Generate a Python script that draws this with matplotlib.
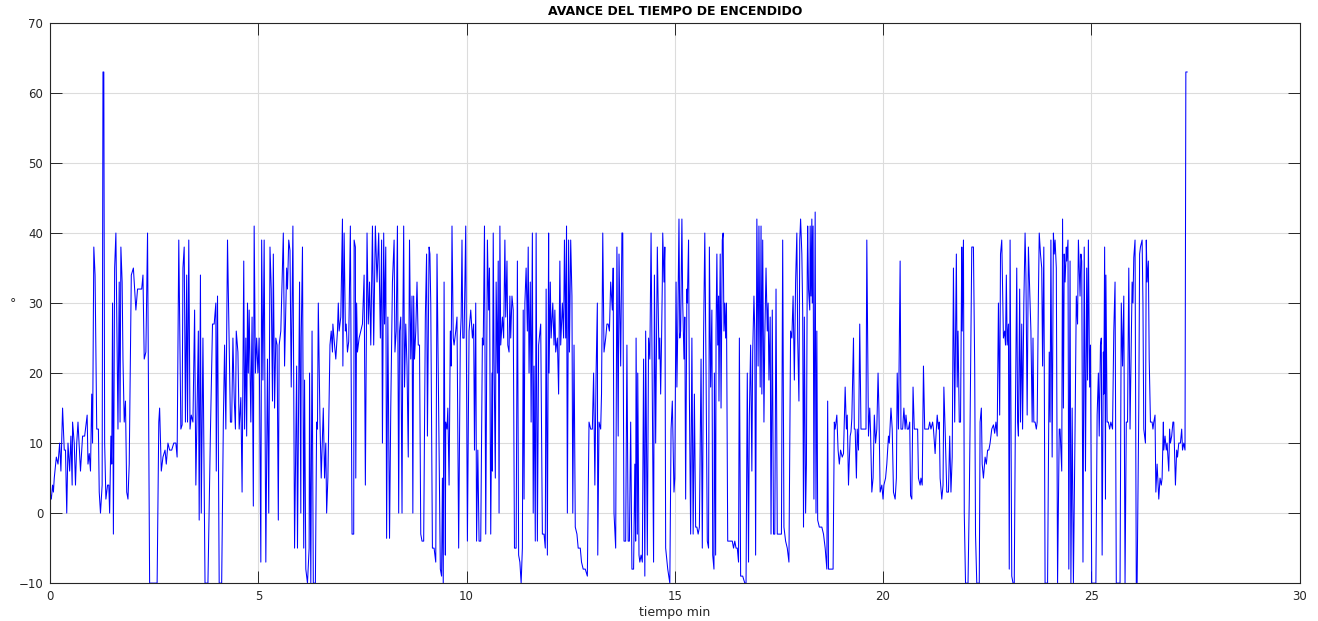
import matplotlib
matplotlib.use("Agg")
import matplotlib.pyplot as plt

# (tiempo [min], avance [grados]), por tramos
seg_a = [(0.00,3),(0.03,2),(0.06,4),(0.08,3),(0.10,5),(0.15,8),(0.19,7),(0.23,10),(0.26,6),(0.30,15),(0.34,9),(0.37,9),(0.40,0),(0.43,10),(0.47,6),(0.50,11),(0.53,4),(0.54,13),(0.58,10),(0.61,4),(0.64,10),(0.67,13),(0.73,6),(0.78,11),(0.83,11),(0.89,14),(0.91,7),(0.94,8.5),(0.97,6),(1.00,17),(1.02,10),(1.05,38),(1.08,34),(1.12,12),(1.16,12),(1.18,3),(1.21,0),(1.25,4),(1.27,63),(1.29,63),(1.31,10),(1.34,2),(1.38,4),(1.41,4),(1.43,0),(1.46,11),(1.48,7),(1.50,30),(1.52,-3),(1.55,35),(1.58,40),(1.63,12),(1.66,33),(1.68,13),(1.70,38),(1.73,33),(1.75,22),(1.78,13),(1.81,16),(1.84,3),(1.87,2),(1.90,7),(1.95,34),(2.00,35),(2.03,32),(2.06,29),(2.10,32),(2.15,32),(2.20,32)]
seg_b = [(2.23,34),(2.26,22),(2.30,23),(2.34,40),(2.39,-10),(2.47,-10),(2.57,-10),(2.61,13),(2.63,15),(2.67,6),(2.71,8),(2.76,9),(2.79,7),(2.83,10),(2.87,9),(2.92,9),(2.97,10),(3.02,10),(3.05,8),(3.09,39),(3.14,12),(3.17,12.6),(3.19,35),(3.22,38),(3.25,13),(3.28,34),(3.30,13),(3.33,39),(3.36,12),(3.39,14),(3.43,13),(3.47,29),(3.50,4),(3.54,19),(3.56,26),(3.58,-1),(3.61,34),(3.63,0),(3.67,25),(3.72,-10),(3.79,-10),(3.85,11.6),(3.90,27),(3.94,27),(3.98,30),(3.99,6),(4.02,31),(4.06,-10),(4.12,-10),(4.16,13),(4.19,24),(4.22,12),(4.26,39),(4.33,13),(4.36,13),(4.39,25),(4.42,16.5),(4.45,12),(4.47,26)]
seg_c = [(4.51,23),(4.54,12),(4.58,16.5),(4.61,3),(4.65,36),(4.67,12),(4.70,25),(4.72,11),(4.74,30),(4.76,20),(4.78,29),(4.82,13),(4.85,28),(4.88,1),(4.90,41),(4.93,20),(4.96,25),(4.99,20),(5.02,25),(5.06,-7),(5.08,39),(5.11,19),(5.14,39),(5.18,-7),(5.22,22),(5.25,0),(5.28,38),(5.31,32),(5.34,16),(5.36,37),(5.39,15),(5.42,25),(5.45,24),(5.48,-1),(5.50,24),(5.54,26),(5.60,40),(5.63,21),(5.68,35),(5.70,32),(5.73,39),(5.76,37.5),(5.79,18),(5.83,41),(5.87,-5),(5.92,21),(5.94,-5),(5.99,33),(6.02,0),(6.03,25),(6.06,38),(6.09,-5),(6.11,19),(6.14,-8),(6.18,-10),(6.22,-5),(6.23,20),(6.26,-10),(6.29,26),(6.32,-10),(6.37,-10),(6.40,13),(6.42,12),(6.44,30),(6.48,13),(6.51,5),(6.56,15),(6.59,5),(6.62,10),(6.64,0),(6.67,5),(6.72,24),(6.75,26),(6.78,23)]
seg_d = [(6.79,27),(6.83,24),(6.86,22),(6.90,26),(6.92,30),(6.94,26),(6.98,28),(7.02,42),(7.03,21),(7.06,40),(7.09,26),(7.11,27),(7.14,23),(7.17,24.5),(7.21,41),(7.25,-3),(7.29,-3),(7.30,39),(7.33,38),(7.34,5),(7.36,30),(7.38,23),(7.42,25),(7.46,26),(7.50,27),(7.54,34),(7.57,4),(7.61,40),(7.64,27),(7.67,33),(7.70,24),(7.74,41),(7.77,24),(7.81,41),(7.85,33),(7.89,40),(7.93,25),(7.96,39),(7.98,10),(8.01,40),(8.03,27),(8.06,38),(8.08,-3.6),(8.11,28),(8.15,-3.6),(8.18,15),(8.22,33),(8.26,39),(8.28,23),(8.31,26),(8.34,41),(8.37,0),(8.39,26),(8.42,28),(8.45,0),(8.47,27),(8.49,41),(8.51,18),(8.54,27),(8.57,21),(8.60,8),(8.63,39),(8.66,22),(8.69,31),(8.71,0),(8.73,31),(8.75,22),(8.78,26),(8.81,33),(8.84,24),(8.87,24),(8.90,-3),(8.93,-4),(8.97,-4),(9.01,28),(9.04,37),(9.06,11)]
seg_e = [(9.10,38),(9.12,37),(9.14,30),(9.18,-5),(9.22,-5),(9.26,-7),(9.29,37),(9.33,14.5),(9.37,-8),(9.40,-9),(9.42,5),(9.44,-10),(9.46,33),(9.49,-6),(9.50,13),(9.53,12),(9.55,15),(9.58,4),(9.61,26),(9.63,21),(9.65,41),(9.68,25),(9.70,24),(9.74,26),(9.77,28),(9.81,-5),(9.85,25),(9.87,28),(9.89,39),(9.91,25),(9.94,25),(9.98,41),(10.02,-4),(10.06,26),(10.10,29),(10.14,25),(10.17,27),(10.19,9),(10.22,30),(10.24,-4),(10.27,9),(10.30,-4),(10.34,-4),(10.38,25),(10.40,24),(10.43,41),(10.46,-3),(10.50,39),(10.53,29),(10.55,35),(10.58,-3),(10.61,20),(10.62,6),(10.64,40),(10.66,22),(10.69,5),(10.71,33),(10.74,20),(10.76,36),(10.78,0),(10.80,41),(10.82,24),(10.86,28),(10.89,25),(10.92,39),(10.94,28),(10.97,36),(10.99,24),(11.02,23),(11.04,31),(11.06,25),(11.09,31),(11.12,29),(11.15,-5),(11.19,-5),(11.22,36),(11.25,-6),(11.28,-7),(11.31,-10),(11.34,-5),(11.36,29)]
seg_f = [(11.38,2),(11.40,30),(11.43,35),(11.46,26),(11.48,38),(11.50,20),(11.53,33),(11.55,13),(11.58,40),(11.60,0),(11.62,21),(11.65,-4),(11.67,40),(11.70,-4),(11.73,24),(11.78,27),(11.82,-3),(11.86,-3),(11.89,-5),(11.91,32),(11.94,-6),(11.97,40),(11.98,20),(12.01,33),(12.03,25),(12.07,30),(12.10,24),(12.12,29),(12.14,23),(12.18,25),(12.21,17),(12.24,36),(12.26,24),(12.30,30),(12.33,25),(12.35,39),(12.38,25),(12.40,41),(12.42,0),(12.45,39),(12.47,23),(12.50,39),(12.53,31),(12.55,0),(12.58,24),(12.61,-2),(12.65,-3),(12.68,-5),(12.73,-5),(12.76,-7),(12.80,-8),(12.85,-8),(12.90,-9),(12.94,13),(12.98,12),(13.02,12),(13.05,20),(13.08,4),(13.11,20),(13.14,30),(13.15,-6),(13.18,13),(13.22,12),(13.24,17),(13.27,40),(13.30,23),(13.34,25),(13.37,27),(13.40,27),(13.43,26),(13.46,33),(13.50,29),(13.52,35),(13.54,0),(13.58,-5),(13.61,38),(13.64,11)]
seg_g = [(13.66,37),(13.70,21),(13.73,40),(13.75,40),(13.78,-4),(13.82,-4),(13.85,24),(13.88,-4),(13.91,-4),(13.94,13),(13.97,-8),(14.01,-8),(14.04,7),(14.06,-4),(14.07,25),(14.10,-3),(14.11,20),(14.14,-6),(14.16,-7),(14.19,-6),(14.22,-7),(14.25,22),(14.28,-9),(14.30,26),(14.34,-6),(14.37,25),(14.40,22),(14.43,40),(14.46,17.5),(14.49,-7),(14.51,34),(14.54,10),(14.58,38),(14.62,22),(14.64,25),(14.66,17),(14.68,24),(14.70,33),(14.71,40),(14.74,33),(14.76,38),(14.78,-5),(14.83,-8),(14.88,-10),(14.91,12),(14.94,16),(14.98,3),(15.00,5),(15.03,33),(15.05,18),(15.07,26),(15.10,42),(15.12,25),(15.14,26),(15.17,42),(15.19,30),(15.22,22),(15.24,28),(15.26,2),(15.29,32),(15.30,30),(15.33,39),(15.35,16.5),(15.38,-3),(15.41,25),(15.44,-3),(15.47,17),(15.50,-2),(15.53,-2),(15.56,-3),(15.59,-2),(15.63,22),(15.66,-5),(15.69,25),(15.72,40),(15.75,20),(15.78,-4),(15.81,-5),(15.83,38),(15.86,18),(15.89,29)]
seg_h = [(15.91,-6),(15.94,-8),(15.95,20),(15.98,-6),(15.99,26),(16.01,37),(16.03,24),(16.05,31),(16.06,16),(16.09,37),(16.11,15),(16.14,39),(16.16,40),(16.18,26),(16.20,30),(16.22,25),(16.24,30),(16.27,-4),(16.33,-4),(16.38,-4),(16.41,-5),(16.44,-4),(16.47,-5),(16.50,-5),(16.53,-7),(16.55,25),(16.58,-9),(16.63,-9),(16.68,-10),(16.71,-10),(16.74,20),(16.77,-7),(16.79,14),(16.82,24),(16.85,6),(16.87,23),(16.90,31),(16.92,26),(16.94,-6),(16.97,42),(17.00,21),(17.02,41),(17.05,18),(17.07,41),(17.09,17),(17.11,39),(17.14,13),(17.16,25),(17.19,35),(17.22,26),(17.24,30),(17.26,19),(17.29,28),(17.31,-3),(17.34,29),(17.37,-3),(17.40,-3),(17.43,32),(17.46,-3),(17.50,-3),(17.54,-3),(17.56,-3),(17.59,39),(17.62,-2),(17.66,-4),(17.70,-5),(17.74,-7),(17.78,26),(17.81,25),(17.84,31),(17.87,19),(17.90,33),(17.93,40),(17.95,25),(17.98,16),(18.00,39),(18.02,42),(18.05,37),(18.07,29),(18.09,-2),(18.11,28),(18.14,0),(18.16,7),(18.18,35)]
seg_i = [(18.19,41),(18.21,32),(18.24,29),(18.25,41),(18.27,31),(18.29,42),(18.30,30),(18.32,41),(18.34,2),(18.37,43),(18.39,0),(18.41,26),(18.43,-1),(18.47,-2),(18.53,-2),(18.57,-3),(18.61,-5),(18.65,-8),(18.67,16),(18.69,-8),(18.75,-8),(18.80,-8),(18.83,13),(18.85,12),(18.89,14),(18.92,9),(18.95,7),(18.98,9),(19.02,8),(19.05,8.5),(19.09,18),(19.12,12),(19.14,14),(19.17,4),(19.21,11),(19.23,11.6),(19.25,13.5),(19.29,25),(19.31,12),(19.33,12),(19.36,5),(19.38,12),(19.41,9),(19.44,27),(19.47,12),(19.52,12),(19.57,12),(19.59,12),(19.61,39),(19.65,11),(19.68,15),(19.70,11.6),(19.73,3),(19.76,5),(19.79,14),(19.82,10),(19.85,12),(19.88,20),(19.90,15),(19.93,3),(19.97,4),(20.00,2),(20.02,4),(20.06,5),(20.09,7),(20.13,11),(20.15,10),(20.19,15),(20.22,12),(20.25,3),(20.29,2),(20.32,5),(20.34,20),(20.37,12),(20.41,36),(20.43,12)]
seg_j = [(20.47,12),(20.50,15),(20.53,12),(20.55,14),(20.58,12),(20.61,12),(20.64,13),(20.66,2.5),(20.69,2),(20.72,18),(20.75,12),(20.79,12),(20.83,12),(20.85,5),(20.89,4),(20.91,5),(20.94,4),(20.97,21),(21.00,12),(21.04,12),(21.09,12),(21.12,13),(21.15,12),(21.19,13),(21.21,12),(21.25,8.5),(21.27,11),(21.30,14),(21.33,12),(21.35,13),(21.37,5),(21.41,2),(21.44,4),(21.46,18),(21.49,12),(21.53,3),(21.57,3),(21.60,11),(21.63,3),(21.66,8),(21.69,35),(21.72,13),(21.76,37),(21.78,18),(21.80,26),(21.83,13),(21.86,13),(21.89,38),(21.90,26),(21.93,39),(21.95,0),(21.98,-10),(22.04,-10),(22.07,2),(22.09,13),(22.13,38),(22.17,38),(22.20,21),(22.22,-3),(22.25,-10),(22.31,-10),(22.33,13),(22.36,15),(22.38,7),(22.41,5),(22.45,8),(22.48,7),(22.51,9),(22.54,9),(22.57,10),(22.61,12),(22.65,12.6),(22.68,11.4),(22.71,13),(22.74,11)]
seg_k = [(22.77,30),(22.80,14),(22.82,37),(22.85,39),(22.89,25),(22.92,26),(22.94,24),(22.96,34),(22.98,24),(23.01,27),(23.03,-8),(23.05,39),(23.09,-9),(23.12,-10),(23.15,-10),(23.18,16),(23.21,35),(23.23,13),(23.25,11),(23.28,32),(23.30,13),(23.33,27),(23.35,12),(23.38,30),(23.41,40),(23.43,34),(23.46,14),(23.49,38),(23.53,30),(23.55,26),(23.58,13),(23.60,25),(23.62,13),(23.65,13),(23.68,12),(23.70,13),(23.73,31),(23.75,40),(23.78,37),(23.81,35),(23.83,21),(23.86,38),(23.89,-10),(23.95,-10),(23.99,23),(24.01,13),(24.03,39),(24.06,8),(24.09,40),(24.11,37),(24.13,39),(24.16,35),(24.19,-10),(24.23,12),(24.25,12),(24.29,6),(24.31,42),(24.33,15),(24.35,37),(24.37,33),(24.40,38),(24.41,36),(24.44,39),(24.46,-8),(24.49,36),(24.51,-10),(24.54,15),(24.57,-10),(24.61,12),(24.64,31),(24.67,27),(24.69,39),(24.73,31),(24.75,37),(24.77,36),(24.80,-7),(24.83,38),(24.86,6),(24.89,35),(24.91,19),(24.93,39),(24.96,18),(24.98,24),(25.01,-10)]
seg_l = [(25.03,-10),(25.11,-10),(25.14,14),(25.17,20),(25.19,11),(25.22,24),(25.24,25),(25.26,-6),(25.29,23),(25.30,17),(25.32,38),(25.34,2),(25.35,34),(25.38,13),(25.41,13),(25.44,12),(25.47,13),(25.51,12),(25.54,26),(25.57,33),(25.60,-10),(25.66,-10),(25.69,-10),(25.72,30),(25.75,21),(25.78,31),(25.81,-10),(25.84,13),(25.87,13),(25.90,35),(25.93,12),(25.96,24),(25.98,33),(26.00,30),(26.02,36.5),(26.05,39),(26.08,-10),(26.10,-10),(26.14,15),(26.16,37),(26.18,38),(26.22,39),(26.24,30),(26.26,12),(26.30,10),(26.32,39),(26.34,33),(26.37,36),(26.39,22),(26.42,13),(26.46,13),(26.48,12),(26.50,13),(26.53,14),(26.55,3),(26.58,7),(26.62,2),(26.65,5),(26.68,4),(26.70,5),(26.73,13),(26.74,9),(26.77,11),(26.80,9),(26.82,10),(26.86,6),(26.88,12),(26.90,10),(26.93,11),(26.96,13),(26.98,13),(27.02,4),(27.05,9),(27.07,8),(27.10,10),(27.14,10),(27.17,12),(27.19,9),(27.22,10),(27.25,9),(27.27,63),(27.30,63)]

x_ticks = [0, 5, 10, 15, 20, 25, 30]
y_ticks = [-10, 0, 10, 20, 30, 40, 50, 60, 70]

datos = seg_a + seg_b + seg_c + seg_d + seg_e + seg_f + seg_g + seg_h + seg_i + seg_j + seg_k + seg_l
tiempo = [p[0] for p in datos]
avance = [p[1] for p in datos]

gris = '#262626'
fig = plt.figure(figsize=(13.18, 6.21), dpi=100)
ax = fig.add_axes([0.038, 0.061, 0.948, 0.902])
ax.plot(tiempo, avance, color=(0, 0, 1), lw=0.75)

ax.set_xlim(0, 30)
ax.set_ylim(-10, 70)
ax.set_xticks(x_ticks)
ax.set_yticks(y_ticks)
ax.grid(True, color='#dcdcdc', lw=0.8)
ax.set_axisbelow(True)
ax.tick_params(direction='in', length=8.6, width=0.7, labelsize=8.5,
               colors=gris, top=True, right=True, pad=5)
for s in ax.spines.values():
    s.set_color(gris)
    s.set_linewidth(0.8)

ax.set_title('AVANCE DEL TIEMPO DE ENCENDIDO', fontsize=9, fontweight='bold', pad=6)
ax.set_xlabel('tiempo min', fontsize=9, color=gris, labelpad=2)
ax.set_ylabel('°', fontsize=9, color=gris, rotation=0, ha='center', va='center')
ax.yaxis.set_label_coords(-0.03, 0.5)

fig.savefig('out.png', dpi=100, facecolor='white')
